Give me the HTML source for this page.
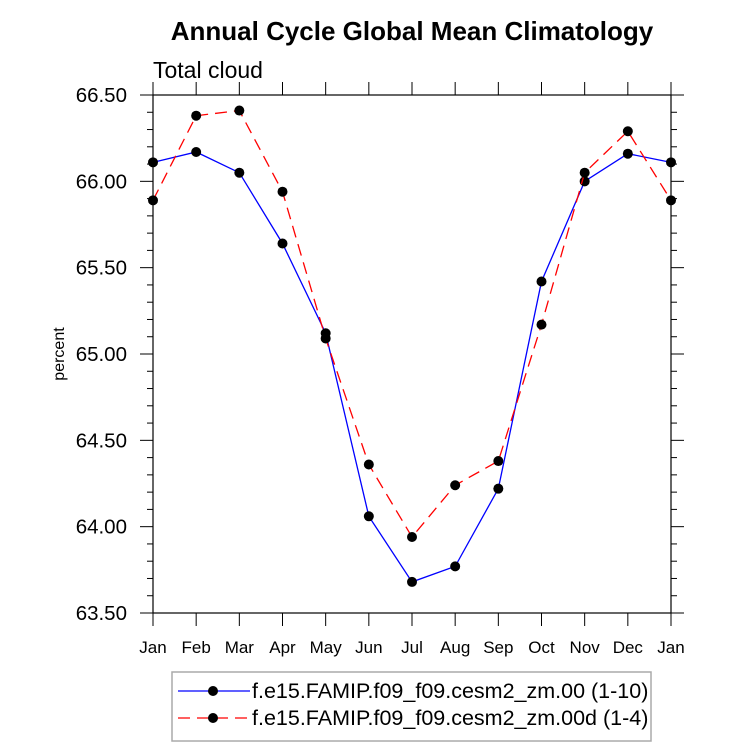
<!DOCTYPE html>
<html><head><meta charset="utf-8"><style>
body{margin:0;background:#fff;}
svg{display:block;font-family:"Liberation Sans",Arial,sans-serif;}
</style></head><body>
<svg id="chart" width="733" height="748" viewBox="0 0 733 748">
<text x="412" y="40" text-anchor="middle" font-size="26" font-weight="bold">Annual Cycle Global Mean Climatology</text>
<text x="153" y="78" font-size="23">Total cloud</text>
<text transform="translate(64,354) rotate(-90)" text-anchor="middle" font-size="16">percent</text>
<g id="axes"></g>
<g id="series"></g>
<g id="legend"></g>
</svg>
<script>
const months=["Jan","Feb","Mar","Apr","May","Jun","Jul","Aug","Sep","Oct","Nov","Dec","Jan"];
const yTicks=[63.5,64.0,64.5,65.0,65.5,66.0,66.5];
const series1=[66.11,66.17,66.05,65.64,65.12,64.06,63.68,63.77,64.22,65.42,66.00,66.16,66.11];
const series2=[65.89,66.38,66.41,65.94,65.09,64.36,63.94,64.24,64.38,65.17,66.05,66.29,65.89];
const names=["f.e15.FAMIP.f09_f09.cesm2_zm.00 (1-10)","f.e15.FAMIP.f09_f09.cesm2_zm.00d (1-4)"];
const L=153,R=671,T=95,B=613,ymin=63.5,ymax=66.5;
const xs=i=>L+i*(R-L)/(months.length-1);
const ys=v=>B-(v-ymin)/(ymax-ymin)*(B-T);
const NS="http://www.w3.org/2000/svg";
function mk(tag,attrs,parent){const e=document.createElementNS(NS,tag);for(const k in attrs)e.setAttribute(k,attrs[k]);parent.appendChild(e);return e;}
const ax=document.getElementById('axes');
const frame=mk('rect',{x:L,y:T,width:R-L,height:B-T,fill:'none',stroke:'#000','stroke-width':1.2},ax);


months.forEach((m,i)=>{const x=xs(i);
 mk('line',{x1:x,y1:B,x2:x,y2:B+13,stroke:'#000'},ax);
 mk('line',{x1:x,y1:T,x2:x,y2:T-13,stroke:'#000'},ax);
 const t=mk('text',{x:x,y:653,'text-anchor':'middle','font-size':17},ax);t.textContent=m;
 
 
});
for(let v=ymin;v<=ymax+1e-9;v+=0.1){const y=ys(v);const major=Math.abs(Math.round(v*2)-v*2)<1e-6;const len=major?13:6;
 mk('line',{x1:L,y1:y,x2:L-len,y2:y,stroke:'#000'},ax);
 mk('line',{x1:R,y1:y,x2:R+len,y2:y,stroke:'#000'},ax);}
yTicks.forEach(v=>{const t=mk('text',{x:127,y:ys(v)+7,'text-anchor':'end','font-size':20.5},ax);t.textContent=v.toFixed(2);
 
 });
const sg=document.getElementById('series');
function draw(data,color,dash,name){
 const p=mk('polyline',{points:data.map((v,i)=>xs(i)+','+ys(v)).join(' '),fill:'none',stroke:color,'stroke-width':1.3,'stroke-dasharray':dash},sg);
 
 
 data.forEach((v,i)=>{const c=mk('circle',{cx:xs(i),cy:ys(v),r:5,fill:'#000'},sg);
  
  });
}
draw(series1,'#0000ff','none','series-00');
draw(series2,'#ff0000','12,7','series-00d');
const lg=document.getElementById('legend');
mk('rect',{x:172,y:672,width:479,height:69,fill:'#fff',stroke:'#aaa','stroke-width':1.5},lg);
[['#0000ff','none',691],['#ff0000','12,7',718]].forEach((s,i)=>{
 mk('line',{x1:178,y1:s[2],x2:250,y2:s[2],stroke:s[0],'stroke-width':1.3,'stroke-dasharray':s[1]},lg);
 mk('circle',{cx:213,cy:s[2],r:5,fill:'#000'},lg);
 const t=mk('text',{x:252,y:s[2]+7,'font-size':21.5},lg);t.textContent=names[i];
 
 
});
</script>
</body></html>
